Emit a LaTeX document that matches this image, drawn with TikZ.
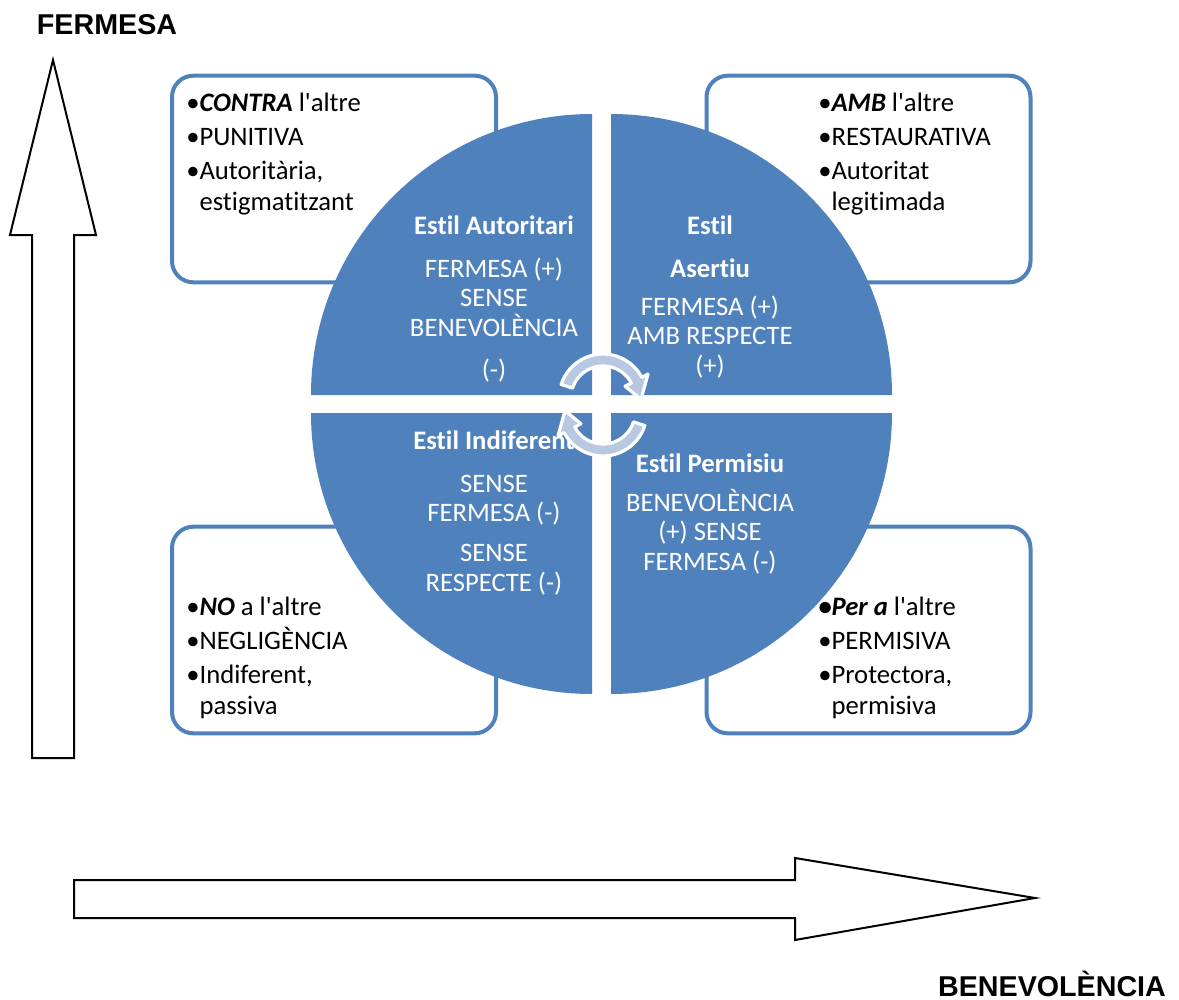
\documentclass[tikz,border=0pt]{standalone}
\usepackage{fontspec}
\setmainfont[Ligatures=NoCommon]{Carlito}
\newfontfamily\axisfont{Liberation Sans}
\usepackage{tikz}
\usetikzlibrary{calc}
\definecolor{quadblue}{RGB}{79,129,189}
\definecolor{cycblue}{RGB}{185,200,226}
\newcommand{\apos}{\textquotesingle}

\tikzset{
  quad/.style={fill=quadblue},
  bullbox/.style={draw=quadblue, line width=3pt, rounded corners=16pt, fill=white,
    minimum width=243pt, minimum height=155pt, inner sep=0pt},
  bulltext/.style={anchor=north west, inner sep=0pt, align=left, font=\fontsize{20}{23}\selectfont},
  quadtext/.style={anchor=north, inner sep=0pt, align=center, text=white, font=\fontsize{20}{22}\selectfont},
  bigarrow/.style={draw=black, line width=1.5pt, fill=white},
  cyc/.style={fill=cycblue, draw=white, line width=2.4pt, line join=round},
  axislabel/.style={inner sep=0pt, font=\axisfont\bfseries\fontsize{21.5}{26}\selectfont}
}

\begin{document}
\begin{tikzpicture}[x=0.75pt,y=0.75pt,yscale=-1,xscale=1]
\useasboundingbox (0,0) rectangle (1179,1000);

%Shape: Up Arrow [id:fermesa]
\draw [bigarrow] (32,758) -- (32,235) -- (10,235) -- (53,60) -- (96,235) -- (74,235) -- (74,758) -- cycle ;
%Shape: Right Arrow [id:benevolencia]
\draw [bigarrow] (74,880) -- (795,880) -- (795,858) -- (1035,898) -- (795,940) -- (795,918) -- (74,918) -- cycle ;

%Shape: Rounded Rect
\node [bullbox] (boxContra) at (334,179) {};
\node [bullbox] (boxAmb) at (868.5,179) {};
\node [bullbox] (boxNo) at (334,630) {};
\node [bullbox] (boxPer) at (868.5,630) {};

%Shape: Quarter Discs
\fill [quad] (592,395) -- (311,395) arc [start angle=180, end angle=270, radius=281] -- cycle ;
\fill [quad] (611,395) -- (611,114) arc [start angle=270, end angle=360, radius=281] -- cycle ;
\fill [quad] (611,413) -- (892,413) arc [start angle=0, end angle=90, radius=281] -- cycle ;
\fill [quad] (592,413) -- (592,694) arc [start angle=90, end angle=180, radius=281] -- cycle ;

% Text Node
\node [bulltext] (txtContra) at (186,93) {•\textbf{\textit{CONTRA}} l\apos altre\\[2.5pt] •PUNITIVA\\[2.5pt] •Autoritària,\\ \hphantom{•}estigmatitzant};
% Text Node
\node [bulltext] (txtAmb) at (818,93) {•\textbf{\textit{AMB}} l\apos altre\\[2.5pt] •RESTAURATIVA\\[2.5pt] •Autoritat\\ \hphantom{•}legitimada};
% Text Node
\node [bulltext] (txtNo) at (186,597) {•\textbf{\textit{NO}} a l\apos altre\\[2.5pt] •NEGLIGÈNCIA\\[2.5pt] •Indiferent,\\ \hphantom{•}passiva};
% Text Node
\node [bulltext] (txtPer) at (818,597) {\textbf{\textit{•Per a}} l\apos altre\\[2.5pt] •PERMISIVA\\[2.5pt] •Protectora,\\ \hphantom{•}permisiva};

% Text Node
\node [quadtext] (autoritari) at (494,216) {\textbf{Estil Autoritari}\\[10pt] FERMESA (+)\\ SENSE\\ BENEVOLÈNCIA\\[10pt] (-)};
% Text Node
\node [quadtext] (asertiu) at (710,216) {\textbf{Estil}\\[10pt] \textbf{Asertiu}\\[6.5pt] FERMESA (+)\\ AMB RESPECTE\\ (+)};
% Text Node
\node [quadtext] (indiferent) at (494,431) {\textbf{Estil Indiferent}\\[10pt] SENSE\\ FERMESA (-)\\[8pt] SENSE\\ RESPECTE (-)};
% Text Node
\node [quadtext] (permisiu) at (710,454) {\textbf{Estil Permisiu}\\[7pt] BENEVOLÈNCIA\\ (+) SENSE\\ FERMESA (-)};

%Shape: Circular Arrows
\coordinate (ct) at (603,398);
\coordinate (cb) at (603,412);
\draw [cyc] ($(ct)+(198:44)$) arc [start angle=198, end angle=332, radius=44] -- ($(ct)+(332:51)$) -- ($(ct)+(2:38)$) -- ($(ct)+(332:25)$) -- ($(ct)+(332:32)$) arc [start angle=332, end angle=198, radius=32] -- cycle ;
\draw [cyc] ($(cb)+(18:44)$) arc [start angle=18, end angle=152, radius=44] -- ($(cb)+(152:51)$) -- ($(cb)+(182:38)$) -- ($(cb)+(152:25)$) -- ($(cb)+(152:32)$) arc [start angle=152, end angle=18, radius=32] -- cycle ;

% Text Node
\node [axislabel] (lblFermesa) at (107,25) {FERMESA};
% Text Node
\node [axislabel, anchor=base] (lblBenevol) at (1052,996) {BENEVOLÈNCIA};

\end{tikzpicture}
\end{document}
